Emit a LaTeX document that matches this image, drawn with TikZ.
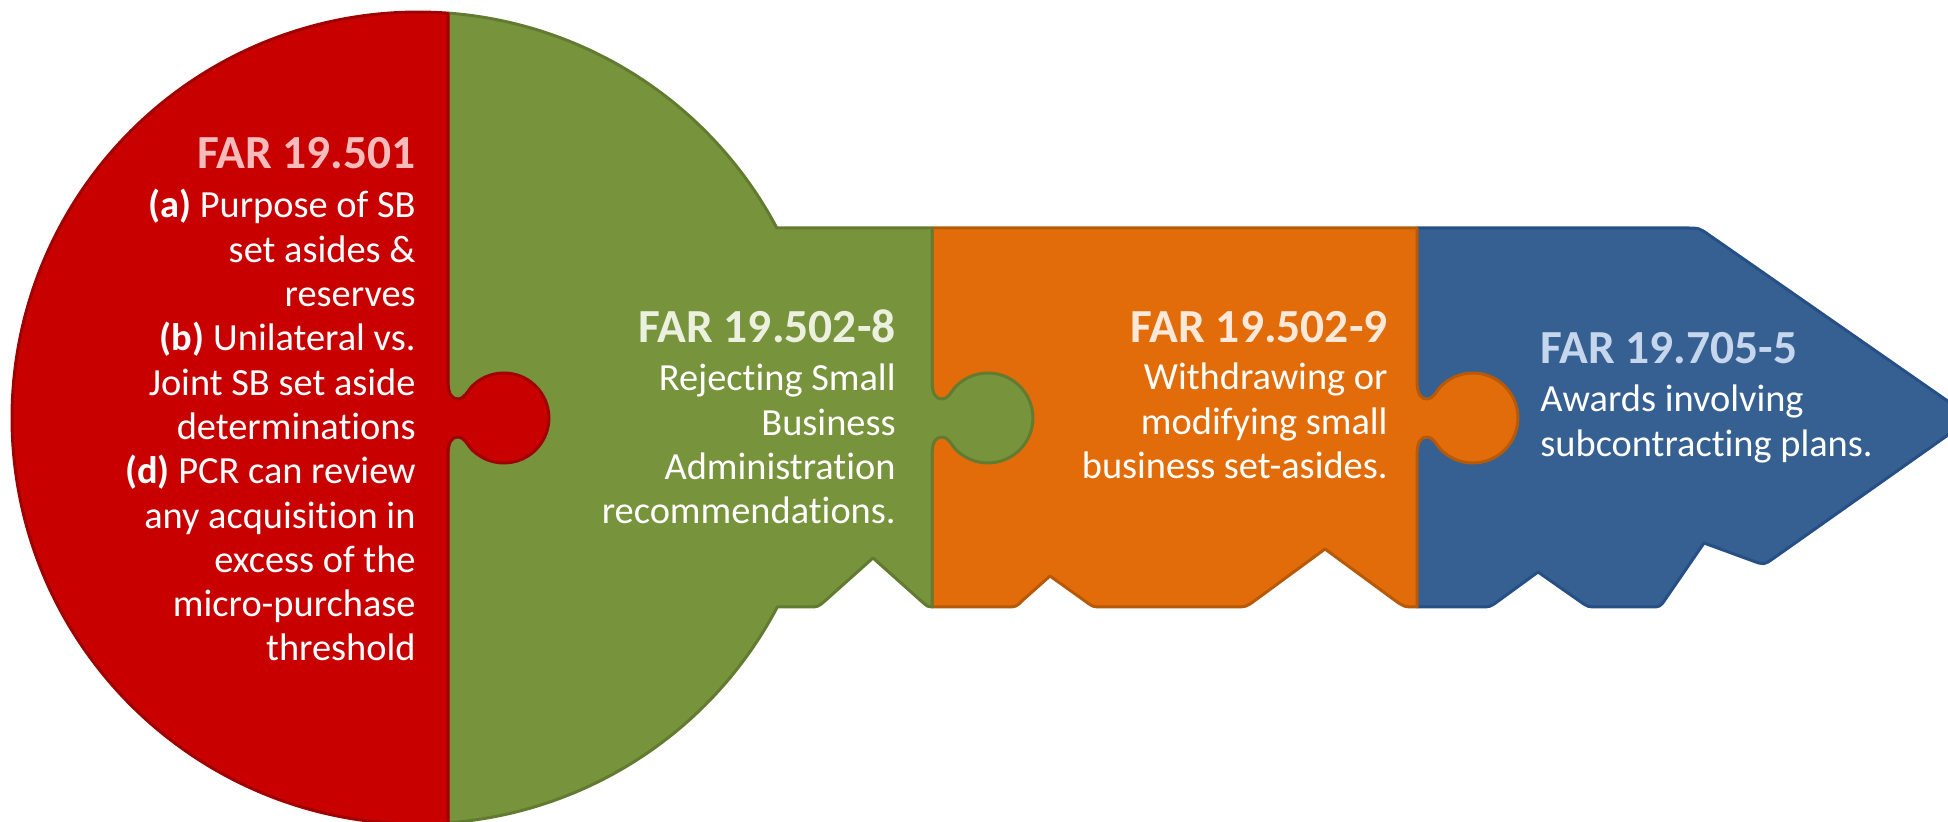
\documentclass[tikz,border=0pt]{standalone}
\usepackage{fontspec}
\setmainfont{Carlito}[Ligatures={NoCommon}]
\usetikzlibrary{calc}

\definecolor{keyred}{HTML}{C80000}
\definecolor{keyredline}{HTML}{A00000}
\definecolor{keygreen}{HTML}{77933C}
\definecolor{keygreenline}{HTML}{627B31}
\definecolor{keyorange}{HTML}{E36C0A}
\definecolor{keyorangeline}{HTML}{B65A08}
\definecolor{keyblue}{HTML}{366092}
\definecolor{keyblueline}{HTML}{264F85}
\definecolor{headred}{HTML}{F8BBBB}
\definecolor{headgreen}{HTML}{EBF1DE}
\definecolor{headorange}{HTML}{FDE9D9}
\definecolor{headblue}{HTML}{C6D6EC}

% puzzle tab on the right-hand edge x=#1, traversed top to bottom
\newcommand\tabdown[1]{-- (#1,380) .. controls (#1,395) and ({#1+4},399) .. ({#1+10},399)
  .. controls ({#1+16},399) and ({#1+19},392) .. ({#1+23},387.3)
  arc[start angle=-137,end angle=137,radius=45]
  .. controls ({#1+19},444) and ({#1+16},437) .. ({#1+10},437)
  .. controls ({#1+4},437) and (#1,441) .. (#1,456)}
% rounded corner at #2 between neighbours #1 and #3, cut back by #4
\newcommand\rnd[4]{($(#2)!#4!(#1)$) .. controls (#2) .. ($(#2)!#4!(#3)$)}

\tikzset{
  piece/.style={line width=1.5pt, line join=round},
  redpiece/.style={piece, fill=keyred, draw=keyredline},
  greenpiece/.style={piece, fill=keygreen, draw=keygreenline},
  orangepiece/.style={piece, fill=keyorange, draw=keyorangeline},
  bluepiece/.style={piece, fill=keyblue, draw=keyblueline},
  headtxt/.style={inner sep=0pt, font=\fontsize{23.75pt}{28pt}\selectfont\bfseries},
  bodytxt/.style={inner sep=0pt, text=white, font=\fontsize{19.2pt}{22.15pt}\selectfont},
}

\begin{document}
\begin{tikzpicture}[x=0.5pt, y=-0.5pt]
\useasboundingbox (0,0) rectangle (1948,822);

% blue blade with arrow tip
\coordinate (b1) at (1417,228);
\coordinate (b2) at (1699,228);
\coordinate (b3) at (1972,418);
\coordinate (b4) at (1764,565);
\coordinate (b5) at (1704,543);
\coordinate (b6) at (1660,607);
\coordinate (b7) at (1588,607);
\coordinate (b8) at (1538,572);
\coordinate (b9) at (1490,607);
\coordinate (b10) at (1417,607);
\draw[bluepiece] (b1) -- \rnd{b1}{b2}{b3}{6pt} -- (b3)
  -- \rnd{b3}{b4}{b5}{6pt} -- (b5)
  -- \rnd{b5}{b6}{b7}{5pt} -- \rnd{b6}{b7}{b8}{5pt} -- (b8)
  -- \rnd{b8}{b9}{b10}{5pt} -- (b10) -- cycle;

% orange piece
\draw[orangepiece] (932,228) -- (1417,228) \tabdown{1417} -- (1417,607)
  .. controls (1404,607) .. (1394.3,599.9) -- (1325,549) -- (1255.7,599.9)
  .. controls (1246,607) .. (1234,607) -- (1103,607)
  .. controls (1093,607) .. (1085,601) -- (1050,576) -- (1023,600)
  .. controls (1016,607) .. (1006,607) -- (932,607) -- cycle;

% green piece: right half of the bow and first part of the blade
\draw[greenpiece] (448,13.1) arc[start angle=-85.76, end angle=-27.9, radius=406]
  -- (932,228) \tabdown{932} -- (932,607)
  .. controls (928,607) .. (920.5,600.4) -- (873,558) -- (825.5,600.4)
  .. controls (818,607) .. (808,607) -- (777.3,607)
  arc[start angle=27.75, end angle=85.76, radius=406] -- cycle;

% red piece: left half of the bow
\draw[redpiece] (448,13.1) \tabdown{448} -- (448,822.9)
  arc[start angle=85.76, end angle=274.24, radius=406] -- cycle;

% texts
\node[headtxt, text=headred, anchor=base east] (redhead) at (416,169) {FAR 19.501};
\node[bodytxt, anchor=base east] (redbody) at (416,218) {\begin{tabular}[t]{@{}r@{}}
\textbf{(a)} Purpose of SB\\
set asides \&\\
reserves\\
\textbf{(b)} Unilateral vs.\\
Joint SB set aside\\
determinations\\
\textbf{(d)} PCR can review\\
any acquisition in\\
excess of the\\
micro-purchase\\
threshold
\end{tabular}};

\node[headtxt, text=headgreen, anchor=base east] (greenhead) at (896,343) {FAR 19.502-8};
\node[bodytxt, anchor=base east] (greenbody) at (896,391) {\begin{tabular}[t]{@{}r@{}}
Rejecting Small\\
Business\\
Administration\\
recommendations.
\end{tabular}};

\node[headtxt, text=headorange, anchor=base east] (orangehead) at (1388,343) {FAR 19.502-9};
\node[bodytxt, anchor=base east] (orangebody) at (1388,390) {\begin{tabular}[t]{@{}r@{}}
Withdrawing or\\
modifying small\\
business set-asides.
\end{tabular}};

\node[headtxt, text=headblue, anchor=base west] (bluehead) at (1540,364) {FAR 19.705-5};
\node[bodytxt, anchor=base west] (bluebody) at (1540,412) {\begin{tabular}[t]{@{}l@{}}
Awards involving\\
subcontracting plans.
\end{tabular}};
\end{tikzpicture}
\end{document}
